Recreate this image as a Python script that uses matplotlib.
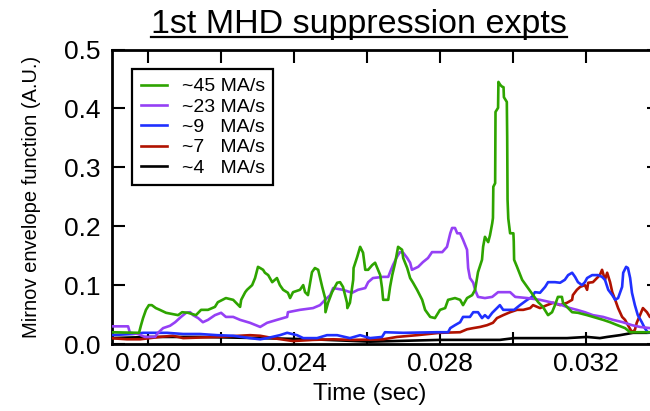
import matplotlib
matplotlib.use("Agg")
import matplotlib.pyplot as plt
from matplotlib.lines import Line2D
from matplotlib.ticker import MultipleLocator
from matplotlib.transforms import IdentityTransform

plt.rcParams["font.family"] = ["Liberation Sans", "DejaVu Sans"]

# --- Daten ---
t_45 = [0.01898, 0.01975, 0.01980, 0.01986, 0.01994, 0.02002, 0.02010, 0.02021, 0.02032,
        0.02049, 0.02065, 0.02082, 0.02093, 0.02109, 0.02131, 0.02145, 0.02164, 0.02183,
        0.02191, 0.02213, 0.02233, 0.02241, 0.02252, 0.02255, 0.02266, 0.02271, 0.02285,
        0.02293, 0.02301, 0.02307, 0.02315, 0.02320, 0.02329, 0.02340, 0.02353, 0.02361,
        0.02370, 0.02383, 0.02389, 0.02397, 0.02416, 0.02425, 0.02430, 0.02438, 0.02449,
        0.02457, 0.02466, 0.02477, 0.02485, 0.02486, 0.02493, 0.02504, 0.02518, 0.02526,
        0.02534, 0.02545, 0.02546, 0.02553, 0.02562, 0.02563, 0.02573, 0.02581, 0.02589,
        0.02595, 0.02603, 0.02614, 0.02622, 0.02630, 0.02636, 0.02641, 0.02644, 0.02658,
        0.02663, 0.02669, 0.02677, 0.02685, 0.02696, 0.02699, 0.02710, 0.02718, 0.02726,
        0.02737, 0.02751, 0.02759, 0.02773, 0.02786, 0.02800, 0.02814, 0.02822, 0.02841,
        0.02855, 0.02863, 0.02874, 0.02888, 0.02896, 0.02902, 0.02904, 0.02915, 0.02918,
        0.02923, 0.02932, 0.02937, 0.02943, 0.02945, 0.02946, 0.02951, 0.02952, 0.02959,
        0.02960, 0.02965, 0.02970, 0.02974, 0.02975, 0.02983, 0.02984, 0.02985, 0.02987,
        0.02992, 0.03001, 0.03002, 0.03003, 0.03011, 0.03025, 0.03041, 0.03055, 0.03069,
        0.03082, 0.03096, 0.03107, 0.03115, 0.03123, 0.03134, 0.03137, 0.03148, 0.03162,
        0.03178, 0.03203, 0.03230, 0.03247, 0.03266, 0.03286, 0.03307, 0.03321, 0.03403]
v_45 = [0.020, 0.019, 0.031, 0.044, 0.058, 0.066, 0.066, 0.061, 0.058,
        0.053, 0.051, 0.049, 0.054, 0.053, 0.049, 0.058, 0.058, 0.063,
        0.071, 0.078, 0.075, 0.070, 0.063, 0.075, 0.088, 0.092, 0.100,
        0.112, 0.131, 0.129, 0.126, 0.121, 0.117, 0.105, 0.112, 0.100,
        0.092, 0.087, 0.078, 0.088, 0.092, 0.100, 0.088, 0.083, 0.122,
        0.129, 0.126, 0.097, 0.078, 0.054, 0.070, 0.088, 0.104, 0.105,
        0.097, 0.070, 0.061, 0.070, 0.109, 0.129, 0.148, 0.165, 0.155,
        0.126, 0.126, 0.134, 0.138, 0.126, 0.117, 0.095, 0.075, 0.075,
        0.097, 0.117, 0.138, 0.165, 0.160, 0.146, 0.129, 0.112, 0.104,
        0.092, 0.075, 0.058, 0.046, 0.044, 0.058, 0.061, 0.075, 0.078,
        0.075, 0.066, 0.078, 0.083, 0.092, 0.114, 0.122, 0.143, 0.165,
        0.182, 0.173, 0.185, 0.205, 0.214, 0.267, 0.273, 0.394, 0.401,
        0.445, 0.440, 0.437, 0.436, 0.419, 0.411, 0.352, 0.245, 0.213,
        0.188, 0.188, 0.174, 0.143, 0.131, 0.109, 0.095, 0.083, 0.071,
        0.063, 0.049, 0.054, 0.066, 0.080, 0.080, 0.070, 0.063, 0.054,
        0.053, 0.049, 0.044, 0.041, 0.037, 0.032, 0.027, 0.020, 0.020]

t_23 = [0.01895, 0.01945, 0.01950, 0.01972, 0.01991, 0.02019, 0.02027, 0.02041, 0.02060,
        0.02074, 0.02090, 0.02104, 0.02115, 0.02123, 0.02137, 0.02150, 0.02164, 0.02183,
        0.02200, 0.02213, 0.02233, 0.02252, 0.02279, 0.02307, 0.02326, 0.02353, 0.02381,
        0.02383, 0.02416, 0.02452, 0.02471, 0.02485, 0.02499, 0.02507, 0.02534, 0.02559,
        0.02575, 0.02595, 0.02603, 0.02616, 0.02644, 0.02658, 0.02663, 0.02671, 0.02682,
        0.02690, 0.02699, 0.02710, 0.02718, 0.02723, 0.02740, 0.02753, 0.02767, 0.02778,
        0.02806, 0.02819, 0.02828, 0.02833, 0.02841, 0.02847, 0.02855, 0.02863, 0.02874,
        0.02877, 0.02882, 0.02891, 0.02896, 0.02904, 0.02923, 0.02943, 0.02959, 0.02992,
        0.03006, 0.03039, 0.03074, 0.03110, 0.03134, 0.03156, 0.03175, 0.03197, 0.03219,
        0.03247, 0.03274, 0.03301, 0.03326, 0.03348, 0.03375, 0.03403]
v_23 = [0.030, 0.030, 0.019, 0.017, 0.012, 0.012, 0.019, 0.027, 0.031,
        0.037, 0.046, 0.053, 0.054, 0.049, 0.044, 0.037, 0.041, 0.049,
        0.053, 0.046, 0.046, 0.041, 0.036, 0.029, 0.036, 0.041, 0.046,
        0.054, 0.058, 0.061, 0.066, 0.075, 0.083, 0.095, 0.092, 0.087,
        0.092, 0.095, 0.105, 0.112, 0.114, 0.114, 0.122, 0.134, 0.148,
        0.156, 0.155, 0.146, 0.138, 0.126, 0.131, 0.139, 0.146, 0.156,
        0.156, 0.165, 0.188, 0.197, 0.197, 0.188, 0.188, 0.177, 0.160,
        0.129, 0.112, 0.104, 0.092, 0.080, 0.078, 0.080, 0.088, 0.088,
        0.080, 0.078, 0.075, 0.070, 0.066, 0.061, 0.058, 0.054, 0.049,
        0.046, 0.041, 0.037, 0.032, 0.029, 0.027, 0.025]

t_9 = [0.01895, 0.01958, 0.01986, 0.02052, 0.02096, 0.02142, 0.02189, 0.02233, 0.02279,
       0.02307, 0.02326, 0.02361, 0.02381, 0.02408, 0.02425, 0.02463, 0.02490, 0.02518,
       0.02553, 0.02581, 0.02608, 0.02641, 0.02649, 0.02699, 0.02792, 0.02822, 0.02828,
       0.02841, 0.02855, 0.02863, 0.02882, 0.02891, 0.02904, 0.02915, 0.02923, 0.02932,
       0.02943, 0.02956, 0.02964, 0.02973, 0.03003, 0.03019, 0.03039, 0.03052, 0.03060,
       0.03074, 0.03088, 0.03096, 0.03115, 0.03129, 0.03142, 0.03151, 0.03162, 0.03170,
       0.03178, 0.03189, 0.03197, 0.03203, 0.03217, 0.03233, 0.03244, 0.03252, 0.03261,
       0.03272, 0.03280, 0.03288, 0.03299, 0.03302, 0.03310, 0.03315, 0.03321, 0.03326,
       0.03334, 0.03342, 0.03353, 0.03361, 0.03369, 0.03403]
v_9 = [0.015, 0.017, 0.019, 0.019, 0.017, 0.017, 0.015, 0.014, 0.010,
       0.008, 0.010, 0.015, 0.019, 0.015, 0.010, 0.010, 0.015, 0.015,
       0.010, 0.015, 0.010, 0.012, 0.020, 0.019, 0.020, 0.020, 0.027,
       0.032, 0.037, 0.046, 0.046, 0.054, 0.054, 0.044, 0.049, 0.044,
       0.053, 0.061, 0.066, 0.058, 0.058, 0.066, 0.075, 0.080, 0.088,
       0.087, 0.097, 0.105, 0.105, 0.104, 0.109, 0.117, 0.121, 0.114,
       0.105, 0.100, 0.105, 0.112, 0.117, 0.117, 0.114, 0.109, 0.092,
       0.083, 0.075, 0.078, 0.097, 0.121, 0.131, 0.129, 0.112, 0.087,
       0.066, 0.049, 0.037, 0.027, 0.020, 0.018]

t_7 = [0.01895, 0.01942, 0.01978, 0.02032, 0.02068, 0.02096, 0.02189, 0.02279, 0.02307,
       0.02342, 0.02397, 0.02452, 0.02507, 0.02562, 0.02644, 0.02682, 0.02737, 0.02800,
       0.02855, 0.02874, 0.02891, 0.02910, 0.02929, 0.02945, 0.02956, 0.02973, 0.02992,
       0.03011, 0.03028, 0.03047, 0.03055, 0.03074, 0.03093, 0.03110, 0.03129, 0.03148,
       0.03162, 0.03164, 0.03175, 0.03184, 0.03197, 0.03203, 0.03206, 0.03219, 0.03230,
       0.03238, 0.03244, 0.03252, 0.03258, 0.03266, 0.03272, 0.03280, 0.03288, 0.03299,
       0.03307, 0.03315, 0.03326, 0.03334, 0.03339, 0.03348, 0.03356, 0.03367, 0.03375,
       0.03403]
v_7 = [0.010, 0.008, 0.008, 0.012, 0.014, 0.010, 0.012, 0.015, 0.014,
       0.010, 0.005, 0.007, 0.008, 0.007, 0.008, 0.012, 0.015, 0.019,
       0.020, 0.025, 0.027, 0.029, 0.032, 0.036, 0.044, 0.049, 0.054,
       0.058, 0.058, 0.061, 0.066, 0.061, 0.066, 0.070, 0.066, 0.070,
       0.075, 0.083, 0.092, 0.097, 0.100, 0.092, 0.104, 0.105, 0.112,
       0.117, 0.126, 0.109, 0.121, 0.105, 0.088, 0.075, 0.061, 0.046,
       0.041, 0.032, 0.020, 0.024, 0.036, 0.049, 0.061, 0.054, 0.046,
       0.040]

t_4 = [0.01895, 0.02005, 0.02142, 0.02307, 0.02450, 0.02608, 0.02800, 0.02964, 0.03003,
       0.03148, 0.03203, 0.03238, 0.03258, 0.03293, 0.03329, 0.03367, 0.03403]
v_4 = [0.010, 0.012, 0.012, 0.010, 0.008, 0.004, 0.007, 0.007, 0.010,
       0.010, 0.012, 0.010, 0.012, 0.015, 0.019, 0.019, 0.020]

x_ticks = [0.020, 0.024, 0.028, 0.032]
x_ticklabels = ["0.020", "0.024", "0.028", "0.032"]
y_ticks = [0.0, 0.1, 0.2, 0.3, 0.4, 0.5]
y_ticklabels = ["0.0", "0.1", "0.2", "0.3", "0.4", "0.5"]

series = [
    (t_45, v_45, "~45 MA/s", "#2ea400", 6),
    (t_23, v_23, "~23 MA/s", "#9540f5", 5),
    (t_9, v_9, "~9   MA/s", "#2030ff", 4),
    (t_7, v_7, "~7   MA/s", "#b01200", 3),
    (t_4, v_4, "~4   MA/s", "#000000", 2),
]


def main():
    fig = plt.figure(figsize=(6.5, 4.11), dpi=100)
    ax = fig.add_axes([0.1718, 0.163, 0.842, 0.7165])

    handles = []
    for t, v, label, color, z in series:
        h, = ax.plot(t, v, color=color, linewidth=1.9, label=label, zorder=z)
        handles.append(h)

    ax.set_xlim(0.019, 0.034)
    ax.set_ylim(0.0, 0.5)
    ax.set_xticks(x_ticks)
    ax.set_xticklabels(x_ticklabels)
    ax.xaxis.set_minor_locator(MultipleLocator(0.002))
    ax.set_yticks(y_ticks)
    ax.set_yticklabels(y_ticklabels)

    ax.tick_params(which="both", direction="in", top=True, right=True,
                   length=9, width=1.5, labelsize=19)
    ax.tick_params(axis="x", pad=6)
    ax.tick_params(axis="y", pad=8)
    for sp in ax.spines.values():
        sp.set_linewidth(2.0)

    leg = ax.legend(handles=handles, loc="upper left", bbox_to_anchor=(0.037, 0.934),
                    borderaxespad=0, fontsize=14, handlelength=1.35,
                    handletextpad=0.75, labelspacing=0.14, borderpad=0.45,
                    fancybox=False, framealpha=1, edgecolor="black")
    leg.get_frame().set_linewidth(1.6)

    title = fig.text(0.552, 0.92, "1st MHD suppression expts", fontsize=24.5,
                     ha="center", va="baseline")
    fig.text(0.569, 0.027, "Time (sec)", fontsize=17.5, ha="center", va="baseline")
    fig.text(0.048, 0.52, "Mirnov envelope function (A.U.)", fontsize=14.5,
             rotation=90, ha="center", va="center")

    # Unterstreichung des Titels
    fig.canvas.draw()
    bb = title.get_window_extent()
    y_base = 0.92 * fig.bbox.height - 4
    fig.add_artist(Line2D([bb.x0, bb.x1], [y_base, y_base], color="black",
                          linewidth=1.6, transform=IdentityTransform()))

    fig.savefig("out.png", dpi=100)
    plt.close(fig)


if __name__ == "__main__":
    main()
